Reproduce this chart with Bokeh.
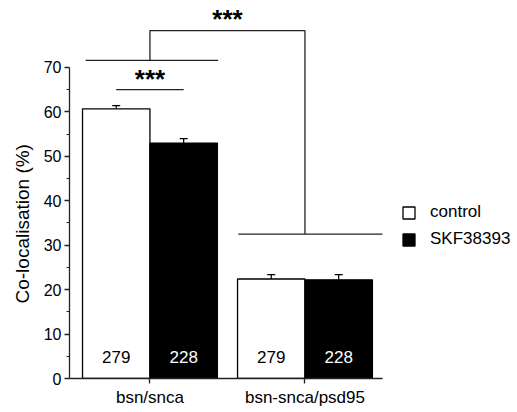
from bokeh.plotting import figure
from bokeh.models import Range1d, FixedTicker, Whisker, TeeHead, ColumnDataSource, Legend, LegendItem, Title
from bokeh.embed import file_html
from bokeh.resources import INLINE
from bokeh.core.properties import value

# ---- data ----
groups = ["bsn/snca", "bsn-snca/psd95"]
series = ["control", "SKF38393"]
control_mean = [60.7, 22.4]
control_sem = [0.7, 1.0]
skf_mean = [53.0, 22.2]
skf_sem = [1.0, 1.2]
n_control = [279, 279]
n_skf = [228, 228]
y_ticks = [0, 10, 20, 30, 40, 50, 60, 70]
y_minor = [5, 15, 25, 35, 45, 55, 65]
y_label = "Co-localisation (%)"

# significance annotations (data units)
within_y = 65.0              # control vs SKF in bsn/snca
group_line_y = [71.6, 32.5]  # bracket line over each group
join_y = 78.3                # line joining the two groups
span_left = [0.415, 0.43]    # extent of group lines left of group centre
span_right = [0.44, 0.50]    # extent right of group centre
star_within_y = 67.45
star_between_y = 81.0
sig_text = "***"

FONT = "Liberation Sans"
centers = [1, 2]
bar_w = 0.435
x_start, x_end = 0.481, 3.371

p = figure(width=517, height=412, output_backend="svg", toolbar_location=None,
           x_range=Range1d(x_start, x_end), y_range=Range1d(0, 85.08),
           min_border_left=69, min_border_right=0, min_border_top=0, min_border_bottom=34)
p.outline_line_color = None
p.grid.visible = False
p.background_fill_color = "white"

cx = [c - bar_w / 2 for c in centers]
sx = [c + bar_w / 2 for c in centers]
src_c = ColumnDataSource(dict(x=cx, top=control_mean, up=[m + e for m, e in zip(control_mean, control_sem)], n=[str(v) for v in n_control], ny=[4.8] * 2))
src_s = ColumnDataSource(dict(x=sx, top=skf_mean, up=[m + e for m, e in zip(skf_mean, skf_sem)], n=[str(v) for v in n_skf], ny=[4.8] * 2))

for src in (src_c, src_s):
    w = Whisker(source=src, base="x", lower="top", upper="up", dimension="height",
                line_color="black", line_width=1.2,
                upper_head=TeeHead(size=8, line_color="black", line_width=1.2), lower_head=None)
    p.add_layout(w)

r_c = p.vbar(x="x", top="top", width=bar_w, bottom=0, source=src_c, fill_color="white", line_color="black", line_width=1.3)
r_s = p.vbar(x="x", top="top", width=bar_w, bottom=0, source=src_s, fill_color="black", line_color="black", line_width=1.3)

p.text(x="x", y="ny", text="n", source=src_c, text_font=value(FONT), text_font_size="17px",
       text_align="center", text_baseline="middle", text_color="black")
p.text(x="x", y="ny", text="n", source=src_s, text_font=value(FONT), text_font_size="17px",
       text_align="center", text_baseline="middle", text_color="white")

# brackets
xs = [[cx[0], sx[0]]]
ys = [[within_y, within_y]]
for i, c in enumerate(centers):
    xs.append([c - span_left[i], c + span_right[i]])
    ys.append([group_line_y[i], group_line_y[i]])
xs.append([centers[0], centers[0], centers[1], centers[1]])
ys.append([group_line_y[0], join_y, join_y, group_line_y[1]])
p.multi_line(xs=xs, ys=ys, line_color="#222222", line_width=1.3)

p.text(x=[centers[0], (centers[0] + centers[1]) / 2], y=[star_within_y, star_between_y],
       text=[sig_text, sig_text], text_font=value(FONT), text_font_size="26px", text_font_style="bold",
       text_align="center", text_baseline="middle", text_color="black")

# axes
xa = p.xaxis[0]
xa.ticker = FixedTicker(ticks=centers)
xa.major_label_overrides = {c: g for c, g in zip(centers, groups)}
xa.bounds = (x_start, 2.5)
xa.major_tick_out = 5
xa.major_tick_in = 0
xa.minor_tick_out = 0
xa.major_label_text_font = FONT
xa.major_label_text_font_size = "17px"
xa.major_label_text_color = "black"
xa.major_label_standoff = 4
xa.axis_line_width = 1.3
xa.axis_line_color = "#222222"
xa.major_tick_line_color = "#222222"
xa.major_tick_line_width = 1.3

ya = p.yaxis[0]
ya.ticker = FixedTicker(ticks=y_ticks, minor_ticks=y_minor)
ya.bounds = (y_ticks[0], y_ticks[-1])
ya.major_tick_out = 5
ya.major_tick_in = 0
ya.minor_tick_out = 3
ya.minor_tick_in = 0
ya.major_label_text_font = FONT
ya.major_label_text_font_size = "16px"
ya.major_label_text_color = "black"
ya.major_label_standoff = 3
ya.axis_line_width = 1.3
ya.axis_line_color = "#222222"
ya.major_tick_line_color = "#222222"
ya.minor_tick_line_color = "#222222"
ya.major_tick_line_width = 1.3
ya.minor_tick_line_width = 1.1

# y-axis title, aligned with the 0-70 axis line (side title reads bottom-to-top)
ytitle = Title(text=y_label, align="left", offset=75, vertical_align="middle", standoff=14,
               text_font=FONT, text_font_size="19px", text_font_style="normal", text_color="black")
p.add_layout(ytitle, "left")

legend = Legend(items=[LegendItem(label=series[0], renderers=[r_c]), LegendItem(label=series[1], renderers=[r_s])],
                location=(332, 129), padding=0, margin=0, spacing=7, glyph_width=15, glyph_height=15,
                label_height=15, label_standoff=14, label_text_font=FONT, label_text_font_size="17px",
                label_text_color="black", border_line_color=None, background_fill_alpha=0)
p.add_layout(legend)

open("out.html", "w").write(file_html(p, INLINE))
